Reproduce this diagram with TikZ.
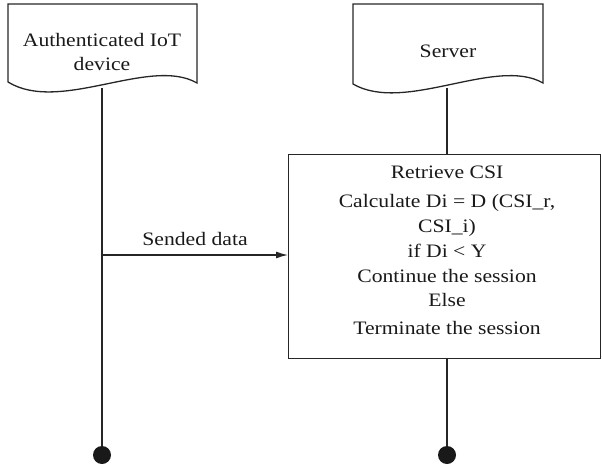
\documentclass[tikz,border=0pt]{standalone}
\usepackage{fontspec}
\setmainfont{Liberation Serif}[FakeStretch=1.14]
\usetikzlibrary{arrows.meta}
\begin{document}
\begin{tikzpicture}[x=1pt,y=-1pt,
  line/.style={draw=black!85,line width=1.3pt},
  txt/.style={font=\fontsize{19}{24}\selectfont,text=black!90,inner sep=0pt,anchor=base},
  dot/.style={circle,fill=black!90,minimum size=18pt,inner sep=0pt}]
\useasboundingbox (0,0) rectangle (602,468);
% participant headers (document shapes)
\draw[line] (8,4) -- (197,4) -- (197,83)
  .. controls (150,56) and (60,114) .. (8,82) -- cycle;
\draw[line] (353,4) -- (543,4) -- (543,83)
  .. controls (496,56) and (405,114) .. (353,84) -- cycle;
\node[txt] (devA) at (102,47) {Authenticated IoT};
\node[txt] (devB) at (102,71) {device};
\node[txt] (srv) at (448,58) {Server};
% lifeline anchors
\coordinate (lt) at (102,88);
\coordinate (lb) at (102,455);
\coordinate (rt) at (447,88);
\coordinate (rb) at (447,455);
% processing box
\node[line,rectangle,minimum width=312pt,minimum height=204pt,anchor=north west] (box) at (288,154) {};
\coordinate (bt) at (447,154);
\coordinate (bb) at (447,358);
\coordinate (arrEnd) at (288,255);
\coordinate (arrStart) at (102,255);
% box text
\node[txt] (t1) at (447,178) {Retrieve CSI};
\node[txt] (t2) at (447,207) {Calculate Di = D (CSI\_r,};
\node[txt] (t3) at (447,232) {CSI\_i)};
\node[txt] (t4) at (447,257) {if Di < Y};
\node[txt] (t5) at (447,282) {Continue the session};
\node[txt] (t6) at (447,306) {Else};
\node[txt] (t7) at (447,334) {Terminate the session};
% lifelines
\draw[line] (lt) -- (lb);
\draw[line] (rt) -- (bt);
\draw[line] (bb) -- (rb);
\node[dot] (dA) at (lb) {};
\node[dot] (dB) at (rb) {};
% message
\draw[line,-{Latex[length=12pt,width=7pt]}] (arrStart) -- (arrEnd)
  node[txt,midway,above=10pt,anchor=base] (msg) {Sended data};
\end{tikzpicture}
\end{document}
